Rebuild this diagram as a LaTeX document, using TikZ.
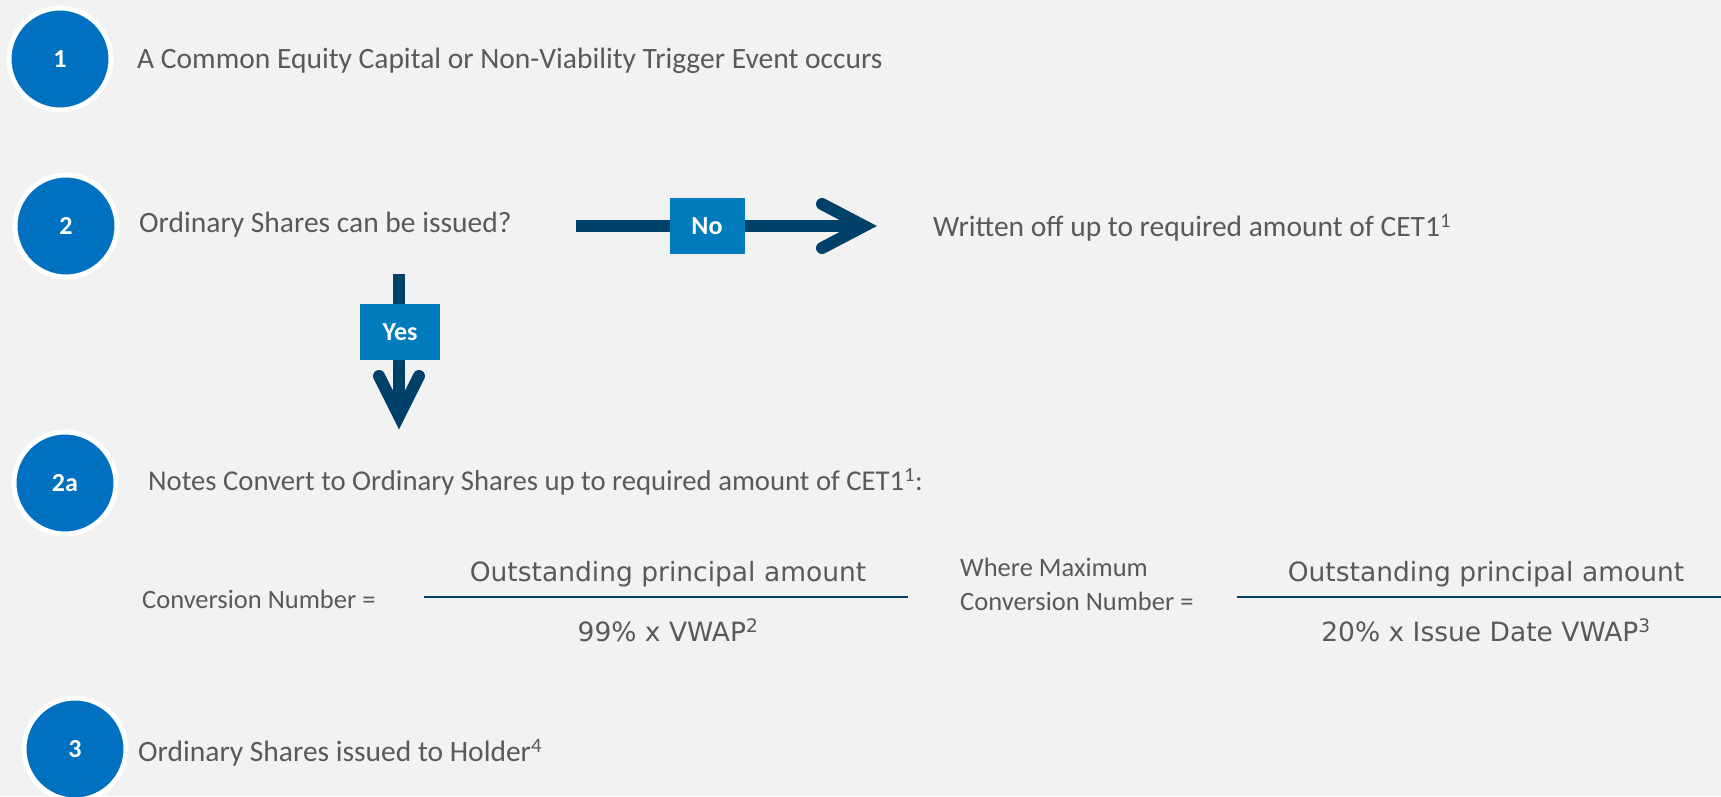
\documentclass[tikz,border=0pt]{standalone}
\usepackage{fontspec}
\setmainfont{Carlito}
\newfontfamily\verd{DejaVu Sans}
\definecolor{bg}{HTML}{F2F2F2}
\definecolor{cblue}{HTML}{0070C0}
\definecolor{navy}{HTML}{00416A}
\definecolor{boxblue}{HTML}{007BBB}
\definecolor{txtgray}{HTML}{595959}
\begin{document}
\begin{tikzpicture}[x=1pt,y=-1pt,
  stepcircle/.style={circle, fill=cblue, draw=white, line width=5pt, minimum size=102pt, inner sep=0pt,
     text=white, font=\fontsize{26}{30}\selectfont\bfseries},
  maintext/.style={anchor=base west, inner sep=0pt, text=txtgray, font=\fontsize{29.5}{35}\selectfont},
  smalltext/.style={anchor=base west, inner sep=0pt, text=txtgray, font=\fontsize{26.5}{31}\selectfont, align=left},
  fractext/.style={anchor=base, inner sep=0pt, text=txtgray, font=\verd\fontsize{26.5}{31}\selectfont},
  labelbox/.style={fill=boxblue, text=white, inner sep=0pt, font=\fontsize{26}{30}\selectfont\bfseries},
  arrowline/.style={draw=navy, line width=12pt},
  chevron/.style={draw=navy, line width=12pt, line cap=round, line join=miter},
  fracline/.style={draw=navy, line width=2.5pt}]
\useasboundingbox (0,0) rectangle (1721,796);
\fill[bg] (0,0) rectangle (1721,796);
\clip (0,0) rectangle (1721,796);

% step circles
\node[stepcircle] (c1) at (60,59) {1};
\node[stepcircle] (c2) at (66,226) {2};
\node[stepcircle] (c2a) at (65,483) {2a};
\node[stepcircle] (c3) at (75,749) {3};

% texts
\node[maintext] (t1) at (137,68) {A Common Equity Capital or Non-Viability Trigger Event occurs};
\node[maintext] (t2) at (139,232) {Ordinary Shares can be issued?};
\node[maintext] (tw) at (933,236.5) {Written off up to required amount of CET1\textsuperscript{1}};
\node[maintext, font=\fontsize{28.7}{34}\selectfont] (t2a) at (148,490.5) {Notes Convert to Ordinary Shares up to required amount of CET1\textsuperscript{1}:};
\node[maintext] (t3) at (138,761.5) {Ordinary Shares issued to Holder\textsuperscript{4}};

% horizontal "No" arrow
\coordinate (noS) at (576,226);
\coordinate (noE) at (864,226);
\draw[arrowline] (noS) -- ([xshift=-6pt]noE);
\draw[chevron] ([shift={(-42,-22)}]noE) -- (noE) -- ([shift={(-42,22)}]noE);
\node[labelbox, minimum width=75pt, minimum height=56pt] (no) at (707,226) {No};

% vertical "Yes" arrow
\coordinate (yesS) at (399,274);
\coordinate (yesE) at (399,416);
\draw[arrowline] (yesS) -- ([yshift=6pt]yesE);
\draw[chevron] ([shift={(-20,-40)}]yesE) -- (yesE) -- ([shift={(20,-40)}]yesE);
\node[labelbox, minimum width=80pt, minimum height=56pt] (yes) at (400,332) {Yes};

% formula 1
\node[smalltext] (cn) at (142,608) {Conversion Number =};
\coordinate (f1a) at (424,597);
\coordinate (f1b) at (908,597);
\draw[fracline] (f1a) -- (f1b);
\node[fractext] (n1) at (668,581) {Outstanding principal amount};
\node[fractext] (d1) at (668,641.5) {99\% x VWAP\textsuperscript{2}};

% formula 2
\node[smalltext] (mcn1) at (960,576.5) {Where Maximum};
\node[smalltext] (mcn2) at (960,610) {Conversion Number =};
\coordinate (f2a) at (1237,597);
\coordinate (f2b) at (1721,597);
\draw[fracline] (f2a) -- (f2b);
\node[fractext] (n2) at (1486,581) {Outstanding principal amount};
\node[fractext] (d2) at (1486,641.5) {20\% x Issue Date VWAP\textsuperscript{3}};
\end{tikzpicture}
\end{document}
